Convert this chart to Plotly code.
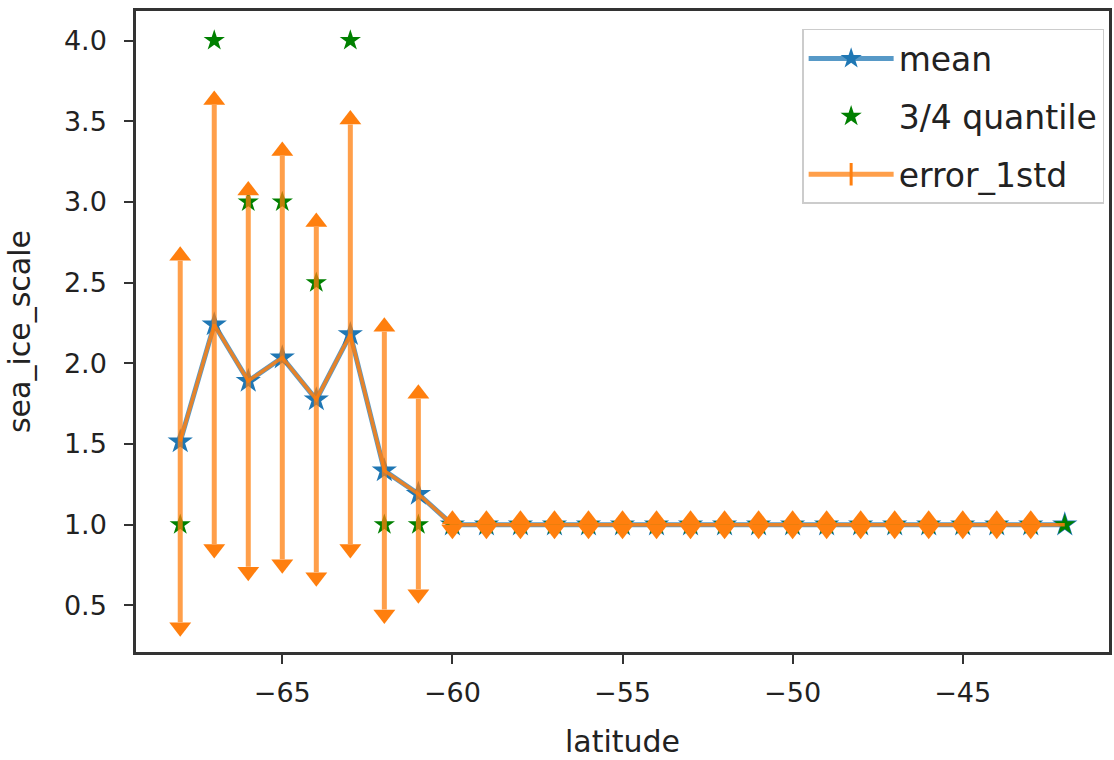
import plotly.graph_objects as go

latitude = list(range(-68, -41))
mean_vals = [1.515, 2.24, 1.89, 2.035, 1.775, 2.18, 1.335, 1.19] + [1.0] * 19
std_vals = [1.12, 1.36, 1.15, 1.25, 1.07, 1.30, 0.86, 0.59] + [0.0] * 18 + [None]
q75_vals = [1.0, 4.0, 3.0, 3.0, 2.5, 4.0, 1.0, 1.0] + [1.0] * 19

BLUE = "#1f77b4"
ORANGE = "#ff7f0e"
GREEN = "#008000"

ex = [x for x, s in zip(latitude, std_vals) if s is not None]
em = [m for m, s in zip(mean_vals, std_vals) if s is not None]
es = [s for s in std_vals if s is not None]
upper = [m + s for m, s in zip(em, es)]
lower = [m - s for m, s in zip(em, es)]

fig = go.Figure()

# mean
fig.add_trace(go.Scatter(
    x=latitude, y=mean_vals, mode="lines+markers", name="mean",
    line=dict(color="rgba(31,119,180,0.75)", width=5),
    marker=dict(symbol="star", size=19, color=BLUE),
    legendgroup="a",
))
# quantile
fig.add_trace(go.Scatter(
    x=latitude, y=q75_vals, mode="markers", name="3/4 quantile",
    marker=dict(symbol="star", size=16, color=GREEN),
    legendgroup="b",
))
# error bars
fig.add_trace(go.Scatter(
    x=ex, y=em, mode="markers", showlegend=False,
    marker=dict(size=0.1, color="rgba(0,0,0,0)"),
    error_y=dict(type="data", array=es, visible=True, thickness=5, width=0,
                 color="rgba(255,127,14,0.75)"),
    hoverinfo="skip",
))
fig.add_trace(go.Scatter(
    x=latitude, y=mean_vals, mode="lines", showlegend=False,
    line=dict(color="rgba(255,127,14,0.85)", width=3.5),
))
fig.add_trace(go.Scatter(
    x=ex, y=upper, mode="markers", showlegend=False,
    marker=dict(symbol="triangle-down", angle=180, standoff=5, size=19,
                color=ORANGE, line=dict(width=0)),
))
fig.add_trace(go.Scatter(
    x=ex, y=lower, mode="markers", showlegend=False,
    marker=dict(symbol="triangle-down", angle=0, standoff=5, size=19,
                color=ORANGE, line=dict(width=0)),
))
# legend entry for error bars
fig.add_trace(go.Scatter(
    x=[None], y=[None], mode="lines+markers", name="error_1std",
    line=dict(color="rgba(255,127,14,0.75)", width=5),
    marker=dict(symbol="line-ns", size=26, line=dict(color=ORANGE, width=3)),
    legendgroup="c",
))

axis_common = dict(
    showline=True, mirror=True, linecolor="#333333", linewidth=2.5,
    ticks="outside", ticklen=9, tickwidth=2, tickcolor="#333333",
    showgrid=False, zeroline=False,
    tickfont=dict(family="DejaVu Sans", size=27, color="#222222"),
)

fig.update_layout(
    width=1114, height=760,
    margin=dict(l=136, r=2, t=11, b=108),
    plot_bgcolor="white", paper_bgcolor="white",
    font=dict(family="DejaVu Sans", color="#222222"),
    xaxis=dict(range=[-69.3, -40.7], dtick=5, tick0=-65, ticklabelstandoff=6,
               title=dict(text="latitude", font=dict(size=30), standoff=24),
               **axis_common),
    yaxis=dict(range=[0.211, 4.183], dtick=0.5, tick0=0.5, tickformat=".1f",
               ticklabelstandoff=12,
               title=dict(text="sea_ice_scale", font=dict(size=30), standoff=25),
               **axis_common),
    legend=dict(x=0.995, y=0.972, xanchor="right", yanchor="top",
                bgcolor="rgba(255,255,255,0.8)", bordercolor="#cccccc",
                borderwidth=1.5, font=dict(size=33, family="DejaVu Sans"),
                itemwidth=85, traceorder="grouped", tracegroupgap=12),
    showlegend=True,
)

fig.write_html("out.html")
